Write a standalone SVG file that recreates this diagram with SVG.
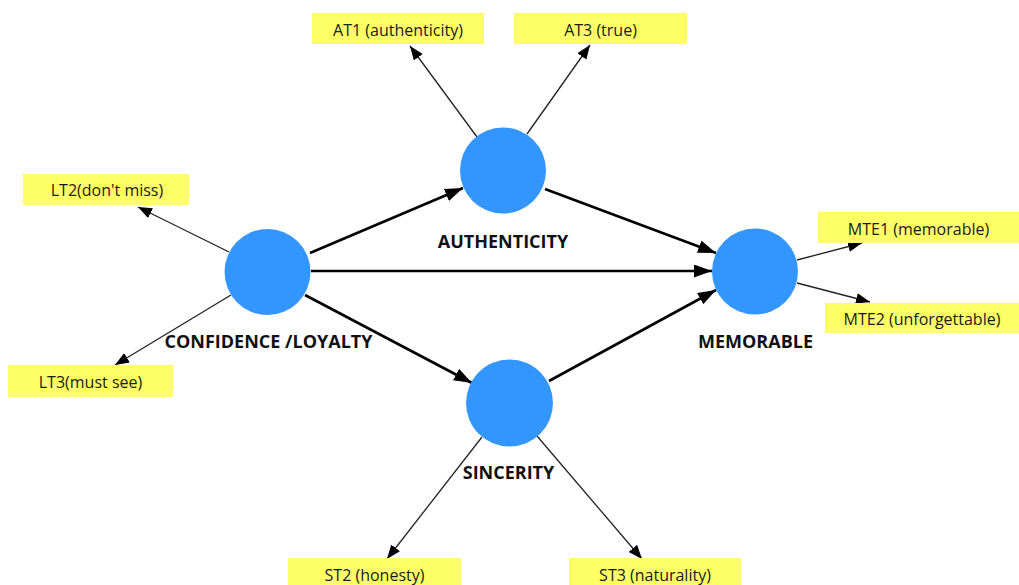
<svg xmlns="http://www.w3.org/2000/svg" width="1019" height="585" viewBox="0 0 1019 585">
  <style>
    .construct { fill: #3396fe; }
    .indicator rect { fill: #ffff66; }
    .indicator text { font-family: "Open Sans", "Noto Sans", sans-serif; font-size: 16px; fill: #1a1a1a; text-anchor: middle; }
    .label { font-family: "Open Sans", "Noto Sans", sans-serif; font-size: 18px; font-weight: bold; fill: #111; text-anchor: middle; }
    .thin { stroke: #222; stroke-width: 1.3; fill: none; }
    .thick { stroke: #000; stroke-width: 2.6; fill: none; }
  </style>
  <defs>
    <marker id="arrow-thin" markerUnits="userSpaceOnUse" markerWidth="15" markerHeight="12" refX="14" refY="5.5" orient="auto">
      <path d="M0,0 L14,5.5 L0,11 z" fill="#000"/>
    </marker>
    <marker id="arrow-thick" markerUnits="userSpaceOnUse" markerWidth="19" markerHeight="14" refX="18" refY="6.5" orient="auto">
      <path d="M0,0 L18,6.5 L0,13 z" fill="#000"/>
    </marker>
  </defs>
  <rect width="1019" height="585" fill="#fff"/>

  <!-- connectors -->
  <g id="connectors">
    <!-- indicator arrows -->
    <line class="thin" x1="477" y1="137" x2="410" y2="46" marker-end="url(#arrow-thin)"/>
    <line class="thin" x1="527" y1="134" x2="590" y2="45" marker-end="url(#arrow-thin)"/>
    <line class="thin" x1="229" y1="252" x2="138" y2="207" marker-end="url(#arrow-thin)"/>
    <line class="thin" x1="231" y1="295" x2="115" y2="365" marker-end="url(#arrow-thin)"/>
    <line class="thin" x1="797" y1="260" x2="862" y2="243" marker-end="url(#arrow-thin)"/>
    <line class="thin" x1="797" y1="283" x2="870" y2="302" marker-end="url(#arrow-thin)"/>
    <line class="thin" x1="482" y1="437" x2="387" y2="559" marker-end="url(#arrow-thin)"/>
    <line class="thin" x1="537" y1="436" x2="642" y2="559" marker-end="url(#arrow-thin)"/>
    <!-- structural paths -->
    <line class="thick" x1="310" y1="253" x2="463" y2="188" marker-end="url(#arrow-thick)"/>
    <line class="thick" x1="311" y1="271" x2="712" y2="271" marker-end="url(#arrow-thick)"/>
    <line class="thick" x1="305" y1="295" x2="472" y2="383" marker-end="url(#arrow-thick)"/>
    <line class="thick" x1="545" y1="189" x2="716" y2="253" marker-end="url(#arrow-thick)"/>
    <line class="thick" x1="549" y1="381" x2="716" y2="290" marker-end="url(#arrow-thick)"/>
  </g>

  <!-- constructs -->
  <g id="confidence-loyalty">
    <circle class="construct" cx="267.5" cy="272" r="43"/>
    <text class="label" x="268.5" y="348">CONFIDENCE /LOYALTY</text>
  </g>
  <g id="authenticity">
    <circle class="construct" cx="503" cy="170.5" r="43"/>
    <text class="label" x="503" y="247.5">AUTHENTICITY</text>
  </g>
  <g id="memorable">
    <circle class="construct" cx="755" cy="271.5" r="43"/>
    <text class="label" x="755.5" y="347.5">MEMORABLE</text>
  </g>
  <g id="sincerity">
    <circle class="construct" cx="509.5" cy="403" r="43.5"/>
    <text class="label" x="508.5" y="479">SINCERITY</text>
  </g>

  <!-- indicators -->
  <g id="at1" class="indicator">
    <rect x="312" y="13" width="172" height="31"/>
    <text x="398" y="35.5">AT1 (authenticity)</text>
  </g>
  <g id="at3" class="indicator">
    <rect x="514" y="13" width="173" height="31"/>
    <text x="600.5" y="35.5">AT3 (true)</text>
  </g>
  <g id="lt2" class="indicator">
    <rect x="23" y="174" width="166" height="31"/>
    <text x="107" y="196">LT2(don't miss)</text>
  </g>
  <g id="lt3" class="indicator">
    <rect x="8" y="365" width="165" height="32"/>
    <text x="90.5" y="388">LT3(must see)</text>
  </g>
  <g id="mte1" class="indicator">
    <rect x="818" y="212" width="201" height="31"/>
    <text x="918.5" y="235">MTE1 (memorable)</text>
  </g>
  <g id="mte2" class="indicator">
    <rect x="825" y="303" width="194" height="30"/>
    <text x="922" y="325">MTE2 (unforgettable)</text>
  </g>
  <g id="st2" class="indicator">
    <rect x="288" y="558" width="173" height="27"/>
    <text x="374.5" y="581">ST2 (honesty)</text>
  </g>
  <g id="st3" class="indicator">
    <rect x="569" y="558" width="172" height="27"/>
    <text x="655" y="581">ST3 (naturality)</text>
  </g>
</svg>
